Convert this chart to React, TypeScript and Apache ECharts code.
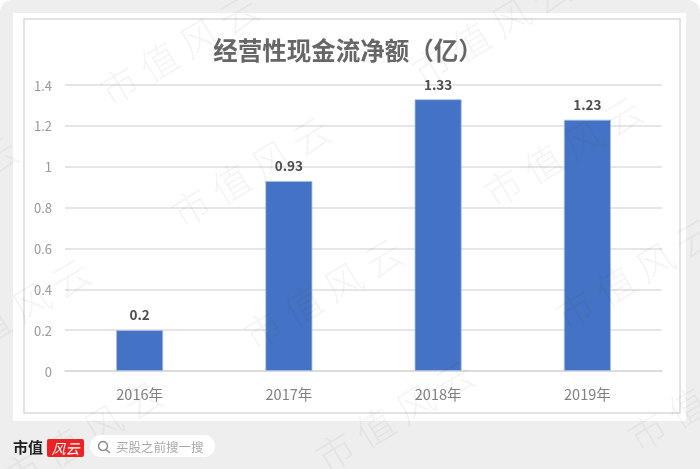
import React, { useEffect, useRef } from "react";
import * as echarts from "echarts";

const titleText = "经营性现金流净额（亿）";
const categories = ["2016年", "2017年", "2018年", "2019年"];
const values = [0.2, 0.93, 1.33, 1.23];
const watermarkText = "市值风云";
const brandText = "市值";
const brandMark = "风云";
const searchText = "买股之前搜一搜";

const CJK = '"Noto Sans CJK SC", "Noto Sans", sans-serif';

function watermarks() {
  const out: any[] = [];
  for (let c = -2; c < 4; c++) {
    for (let r = -1; r < 5; r++) {
      const x = 178 + c * 312 + r * 72;
      const y = 48 - c * 20 + r * 122;
      if (x < -75 || x > 775 || y < -45 || y > 514) continue;
      out.push({
        type: "text",
        x,
        y,
        rotation: (31 * Math.PI) / 180,
        z: 100,
        silent: true,
        style: {
          text: watermarkText.split("").join(" "),
          font: `300 38px ${CJK}`,
          fill: "rgba(70,70,70,0.06)",
          align: "center",
          verticalAlign: "middle",
        },
      });
    }
  }
  return out;
}

export default function App() {
  const ref = useRef<HTMLDivElement>(null);
  useEffect(() => {
    if (!ref.current) return;
    const chart = echarts.init(ref.current, undefined, { renderer: "svg" });
    chart.setOption({
      animation: false,
      backgroundColor: "#ffffff",
      textStyle: { fontFamily: CJK },
      title: {
        text: titleText,
        left: 343,
        top: 32,
        textAlign: "center",
        textStyle: { fontSize: 24.5, fontWeight: "bold", color: "#666666", fontFamily: CJK },
      },
      grid: { left: 65, right: 38, top: 85, bottom: 98 },
      xAxis: {
        type: "category",
        data: categories,
        axisTick: { show: false },
        axisLine: { lineStyle: { color: "#d9d9d9", width: 1.5 } },
        axisLabel: { color: "#808080", fontSize: 14.5, margin: 15, fontFamily: CJK },
      },
      yAxis: {
        type: "value",
        min: 0,
        max: 1.4,
        interval: 0.2,
        axisLine: { show: false },
        axisTick: { show: false },
        splitLine: { lineStyle: { color: "#dedede", width: 1.5 } },
        axisLabel: { color: "#999999", fontSize: 13, margin: 13, fontFamily: CJK },
      },
      series: [
        {
          type: "bar",
          data: values,
          barWidth: 47,
          itemStyle: { color: "#4472c4", borderColor: "#a9bfe6", borderWidth: 0.8 },
          label: {
            show: true,
            position: "top",
            distance: 9,
            color: "#4d4d4d",
            fontSize: 13.5,
            fontWeight: "bold",
            fontFamily: CJK,
          },
        },
      ],
      graphic: {
        elements: [
          { type: "rect", z: -10, silent: true, shape: { x: 0, y: 0, width: 700, height: 469, r: [12, 12, 0, 0] }, style: { fill: "#eeeeee" } },
          { type: "rect", z: -9, silent: true, shape: { x: 13, y: 13, width: 673, height: 408 }, style: { fill: "#ffffff" } },
          { type: "rect", z: -8, silent: true, shape: { x: 24, y: 19, width: 656, height: 394 }, style: { fill: "#ffffff", stroke: "#d9d9d9", lineWidth: 1.5 } },
          ...watermarks(),
          { type: "text", x: 13, y: 446, z: 110, silent: true, style: { text: brandText, font: `bold 15px ${CJK}`, fill: "#222222", verticalAlign: "middle" } },
          { type: "rect", z: 110, silent: true, shape: { x: 47, y: 439, width: 37, height: 18, r: 2 }, style: { fill: "#ee2222" } },
          { type: "text", x: 65.5, y: 448, z: 111, silent: true, style: { text: brandMark, font: `italic 14px ${CJK}`, fill: "#ffffff", align: "center", verticalAlign: "middle" } },
          { type: "rect", z: 110, silent: true, shape: { x: 90, y: 435, width: 125, height: 22, r: 11 }, style: { fill: "#ffffff" } },
          { type: "circle", z: 111, silent: true, shape: { cx: 103, cy: 446, r: 4.5 }, style: { fill: "none", stroke: "#888888", lineWidth: 1.5 } },
          { type: "line", z: 111, silent: true, shape: { x1: 106, y1: 449.5, x2: 110, y2: 453 }, style: { stroke: "#888888", lineWidth: 1.5 } },
          { type: "text", x: 116, y: 446, z: 111, silent: true, style: { text: searchText, font: `12.5px ${CJK}`, fill: "#aaaaaa", verticalAlign: "middle" } },
        ],
      },
    });
    return () => chart.dispose();
  }, []);
  return <div ref={ref} style={{ position: "fixed", left: 0, top: 0, width: 700, height: 469, filter: "blur(0.5px)" }} />;
}
